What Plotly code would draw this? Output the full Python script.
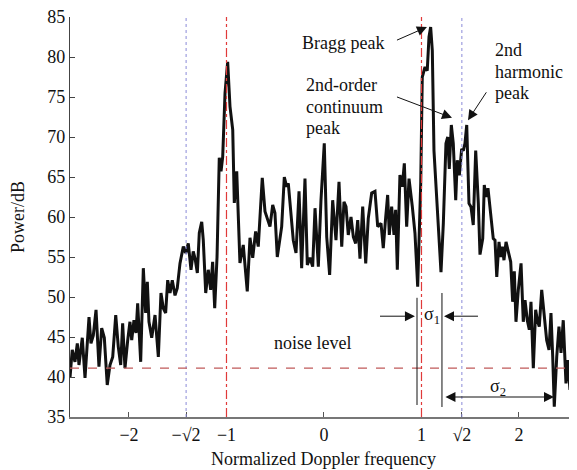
import plotly.graph_objects as go

freq = [-2.605, -2.582, -2.554, -2.530, -2.513, -2.479, -2.451, -2.410, -2.390, -2.366,
        -2.338, -2.308, -2.280, -2.253, -2.223, -2.195, -2.167, -2.136, -2.110, -2.085,
        -2.065, -2.041, -2.013, -1.990, -1.972, -1.949, -1.928, -1.911, -1.880, -1.853,
        -1.829, -1.812, -1.795, -1.767, -1.733, -1.699, -1.672, -1.648, -1.624, -1.603,
        -1.579, -1.556, -1.528, -1.505, -1.477, -1.443, -1.418, -1.392, -1.364, -1.341,
        -1.322, -1.299, -1.279, -1.254, -1.238, -1.213, -1.187, -1.162, -1.142, -1.121,
        -1.097, -1.074, -1.056, -1.039, -1.015, -0.988, -0.964, -0.936, -0.920, -0.895,
        -0.862, -0.828, -0.787, -0.759, -0.731, -0.701, -0.674, -0.633, -0.605, -0.571,
        -0.554, -0.526, -0.503, -0.479, -0.451, -0.434, -0.407, -0.383, -0.366, -0.342,
        -0.315, -0.287, -0.256, -0.229, -0.195, -0.171, -0.144, -0.116, -0.092, -0.058,
        -0.031, 0.003, 0.028, 0.058, 0.089, 0.106, 0.123, 0.154, 0.182, 0.205,
        0.226, 0.249, 0.277, 0.301, 0.325, 0.346, 0.369, 0.397, 0.428, 0.454,
        0.489, 0.523, 0.551, 0.585, 0.608, 0.633, 0.653, 0.670, 0.694, 0.718,
        0.735, 0.752, 0.779, 0.803, 0.824, 0.848, 0.872, 0.906, 0.933, 0.961,
        0.992, 1.008, 1.036, 1.059, 1.077, 1.094, 1.111, 1.128, 1.156, 1.200,
        1.224, 1.251, 1.269, 1.285, 1.306, 1.326, 1.351, 1.367, 1.388, 1.412,
        1.429, 1.446, 1.464, 1.487, 1.508, 1.531, 1.556, 1.583, 1.600, 1.628,
        1.644, 1.662, 1.682, 1.713, 1.736, 1.754, 1.772, 1.795, 1.812, 1.829,
        1.846, 1.867, 1.890, 1.915, 1.935, 1.952, 1.969, 1.993, 2.021, 2.044,
        2.062, 2.085, 2.106, 2.123, 2.147, 2.171, 2.188, 2.208, 2.233, 2.256,
        2.284, 2.308, 2.328, 2.346, 2.362, 2.387, 2.410, 2.431, 2.454, 2.482,
        2.500, 2.523, 2.547, 2.567, 2.592]

power = [39.9, 43.4, 41.9, 44.2, 41.5, 44.9, 39.9, 47.5, 44.2, 45.2,
         48.4, 41.3, 46.1, 44.9, 39.0, 41.5, 42.5, 47.75, 43.8, 41.5,
         46.7, 41.1, 44.6, 46.9, 44.6, 47.1, 45.5, 49.2, 41.9, 53.6,
         48.0, 51.9, 46.9, 44.9, 47.75, 42.5, 50.5, 48.6, 48.0, 52.1,
         50.5, 52.1, 50.2, 51.1, 54.2, 56.3, 55.5, 56.7, 53.4, 55.7,
         54.8, 53.0, 58.0, 59.4, 57.1, 50.5, 53.4, 50.9, 54.4, 48.6,
         55.0, 67.4, 65.7, 67.5, 75.5, 79.4, 73.8, 70.9, 61.75, 65.7,
         54.25, 56.5, 50.7, 57.4, 54.9, 58.2, 56.3, 64.9, 60.7, 59.4,
         58.8, 61.5, 60.5, 55.0, 57.75, 58.8, 65.0, 63.8, 64.2, 61.3,
         57.1, 55.5, 63.2, 53.6, 64.8, 54.0, 54.9, 53.8, 61.1, 53.8,
         62.1, 69.2, 57.5, 52.75, 62.1, 59.6, 57.1, 64.4, 56.3, 61.9,
         61.3, 57.75, 60.0, 57.5, 56.7, 59.6, 54.8, 61.3, 54.2, 59.8,
         63.0, 63.2, 58.8, 59.2, 56.1, 60.0, 62.75, 57.75, 61.3, 57.75,
         60.9, 53.4, 65.25, 63.8, 66.7, 58.8, 64.8, 61.3, 58.0, 51.3,
         64.2, 77.5, 78.75, 78.3, 82.5, 83.75, 80.8, 68.3, 62.1, 53.1,
         59.2, 69.2, 70.0, 66.0, 71.5, 69.2, 62.1, 67.1, 65.2, 68.5,
         68.3, 69.2, 71.5, 61.7, 61.25, 59.0, 68.3, 61.7, 55.3, 57.3,
         64.0, 62.5, 63.6, 60.25, 57.3, 57.1, 52.5, 56.9, 55.0, 56.3,
         54.6, 56.9, 55.7, 54.4, 49.4, 53.2, 46.9, 50.9, 54.2, 46.9,
         49.6, 47.1, 45.9, 49.4, 41.1, 48.4, 47.1, 46.3, 50.9, 48.4,
         44.6, 43.4, 48.0, 42.5, 36.3, 42.5, 46.3, 43.0, 47.1, 39.2,
         42.1, 38.4, 48.0, 45.4, 43.4]

tick_vals = [-2, -1.41421356, -1, 0, 1, 1.41421356, 2]
tick_text = ["\u22122", "\u2212\u221a2", "\u22121", "0", "1", "\u221a2", "2"]
noise_level = 41.1
bragg = [-1, 1]
harmonic = [-1.41421356, 1.41421356]

FONT = "Liberation Serif, Times New Roman, Times, serif"
FS = 18

fig = go.Figure()
fig.add_trace(go.Scatter(x=freq, y=power, mode="lines",
                         line=dict(color="#111111", width=3), showlegend=False,
                         hoverinfo="skip"))

shapes = []
for h in harmonic:
    shapes.append(dict(type="line", xref="x", yref="y", x0=h, x1=h, y0=35, y1=85,
                       line=dict(color="#8a8ad8", width=1, dash="dot")))
for b in bragg:
    shapes.append(dict(type="line", xref="x", yref="y", x0=b, x1=b, y0=35, y1=85,
                       line=dict(color="#e03a3a", width=1.2, dash="dashdot")))
shapes.append(dict(type="line", xref="x", yref="y", x0=-2.605, x1=2.6,
                   y0=noise_level, y1=noise_level,
                   line=dict(color="#c05a5a", width=1.2, dash="dash")))
# sigma1 boundaries
shapes.append(dict(type="line", xref="x", yref="y", x0=0.954, x1=0.954, y0=36.5, y1=49.9,
                   line=dict(color="#111111", width=1)))
shapes.append(dict(type="line", xref="x", yref="y", x0=1.210, x1=1.210, y0=36.25, y1=50.5,
                   line=dict(color="#111111", width=1)))
fig.update_layout(shapes=shapes)

tf = dict(family=FONT, size=FS, color="#111111")
ann = []
def txt(x, y, s, xanchor="left"):
    ann.append(dict(x=x, y=y, xref="x", yref="y", text=s, showarrow=False,
                    xanchor=xanchor, yanchor="middle", font=tf))
def arrow(x, y, ax, ay, both=False):
    d = dict(x=x, y=y, ax=ax, ay=ay, xref="x", yref="y", axref="x", ayref="y",
             text=" ", showarrow=True, arrowhead=2, arrowsize=2, arrowwidth=1,
             arrowcolor="#111111", font=dict(size=2))
    if both:
        d.update(arrowside="end+start", startarrowhead=2, startarrowsize=2)
    ann.append(d)

txt(-0.246, 81.75, "Bragg peak")
txt(-0.205, 76.5, "2nd-order")
txt(-0.205, 73.75, "continuum")
txt(-0.205, 71.1, "peak")
txt(1.733, 80.9, "2nd")
txt(1.733, 78.1, "harmonic")
txt(1.733, 75.5, "peak")
txt(-0.533, 44.25, "noise level")
txt(1.108, 47.75, "\u03c3<sub>1</sub>", xanchor="center")
txt(1.785, 38.75, "\u03c3<sub>2</sub>", xanchor="center")

arrow(1.056, 83.75, 0.728, 82.0)
arrow(1.313, 72.4, 0.728, 75.1)
arrow(1.477, 72.1, 1.682, 75.9)
arrow(0.933, 47.6, 0.554, 47.6)
arrow(1.231, 47.6, 1.600, 47.6)
arrow(2.359, 37.5, 1.225, 37.5, both=True)

fig.update_layout(annotations=ann)

fig.update_layout(
    width=577, height=470,
    margin=dict(l=62, r=8, t=9, b=61),
    paper_bgcolor="white", plot_bgcolor="white",
    font=dict(family=FONT, size=FS, color="#111111"),
    xaxis=dict(range=[-2.605, 2.595], tickvals=tick_vals, ticktext=tick_text,
               ticks="inside", ticklen=5, tickcolor="#555555",
               showline=True, linecolor="#777777", linewidth=2,
               showgrid=False, zeroline=False, automargin=False,
               ticklabeloverflow="allow",
               title=dict(text="Normalized Doppler frequency", standoff=9,
                          font=dict(family=FONT, size=FS)),
               tickfont=dict(family=FONT, size=FS)),
    yaxis=dict(range=[35, 85], tickvals=[35, 40, 45, 50, 55, 60, 65, 70, 75, 80, 85],
               ticks="inside", ticklen=5, tickcolor="#444444",
               showline=True, linecolor="#444444", linewidth=1.2,
               showgrid=False, zeroline=False, automargin=False,
               ticklabeloverflow="allow",
               title=dict(text="Power/dB", standoff=30, font=dict(family=FONT, size=FS)),
               tickfont=dict(family=FONT, size=FS)),
)

fig.write_html("out.html")
